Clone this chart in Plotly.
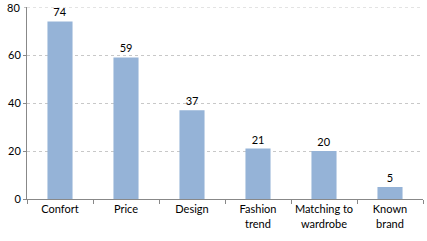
import plotly.graph_objects as go

categories = ["Confort", "Price", "Design", "Fashion<br>trend", "Matching to<br>wardrobe", "Known<br>brand"]
values = [74, 59, 37, 21, 20, 5]
y_ticks = [0, 20, 40, 60, 80]
y_max = 80

fig = go.Figure(go.Bar(
    x=categories, y=values,
    marker=dict(color="#95B3D7", line=dict(width=0)),
    width=0.38,
    text=[str(v) for v in values],
    textposition="outside",
    textfont=dict(color="black", size=11, family="Lato"),
    cliponaxis=False,
))

fig.update_layout(
    width=427, height=241,
    margin=dict(l=27, r=4, t=7, b=42),
    paper_bgcolor="white", plot_bgcolor="white",
    font=dict(family="Lato", size=11, color="black"),
    showlegend=False,
    bargap=0.62,
)
fig.update_xaxes(
    showline=True, linecolor="#888888", linewidth=1,
    ticks="outside", ticklen=4, tickcolor="#888888", tickson="boundaries",
    showgrid=False, tickangle=0, automargin=False,
)
fig.update_yaxes(
    range=[0, y_max], tickvals=y_ticks[:-1],
    showline=True, linecolor="#888888", linewidth=1,
    ticks="outside", ticklen=3, tickcolor="#888888",
    showgrid=True, gridcolor="#C8C8C8", griddash="dot", gridwidth=1,
    zeroline=False, automargin=False,
)
# top tick (80) drawn explicitly, since Plotly drops it at the plot edge
fig.add_shape(type="line", xref="paper", yref="y", x0=0, x1=1, y0=y_max, y1=y_max,
              line=dict(color="#C8C8C8", width=1, dash="dot"), layer="below")
fig.add_shape(type="line", xref="paper", yref="y", x0=-0.0076, x1=0, y0=y_max, y1=y_max,
              line=dict(color="#888888", width=1))
fig.add_annotation(xref="paper", yref="y", x=0, y=y_max, text=str(y_max),
                   showarrow=False, xanchor="right", xshift=-5,
                   font=dict(family="Lato", size=11, color="black"))

fig.write_html("out.html")
